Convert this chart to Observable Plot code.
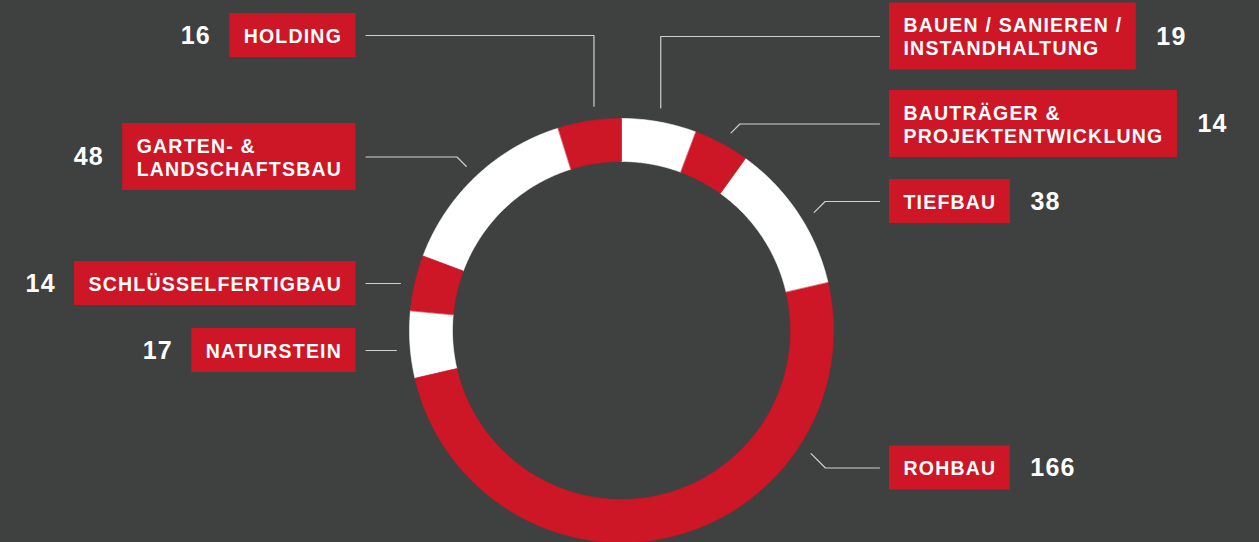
<!DOCTYPE html>
<html>
<head>
<meta charset="utf-8">
<script src="https://cdn.jsdelivr.net/npm/d3@7"></script>
<script src="https://cdn.jsdelivr.net/npm/@observablehq/plot@0.6"></script>
<style>
  html, body { margin: 0; padding: 0; background: #3f4040; }
  #chart svg text { letter-spacing: 1.2px; }
</style>
</head>
<body>
<div id="chart"></div>
<script>
// ---- data ----
const categories = ["BAUEN / SANIEREN /\nINSTANDHALTUNG", "BAUTRÄGER &\nPROJEKTENTWICKLUNG", "TIEFBAU", "ROHBAU", "NATURSTEIN", "SCHLÜSSELFERTIGBAU", "GARTEN- &\nLANDSCHAFTSBAU", "HOLDING"];
const values = [19, 14, 38, 166, 17, 14, 48, 16];

// ---- style / layout (kept apart from the data) ----
const W = 1259, H = 542;
const BG = "#3f4040", RED = "#cd1626", WHITE = "#ffffff", LEADER = "#cfcfcf";
const sliceFill = [WHITE, RED, WHITE, RED, WHITE, RED, WHITE, RED];
const donut = {cx: 621, cy: 330, rOuter: 212, rInner: 169, rLeader: 226};
const labelSide = ["right", "right", "right", "right", "left", "left", "left", "left"];
const labelY = [36, 123.5, 201, 467.5, 350, 283, 156.5, 35];
const leaderAngle = [10, 29, 58.5, 123, 265, 282, 316.6, 353];
const leaderKind = ["vert", "diag", "diag", "diag", "flat", "flat", "diag", "vert"];
const rightBoxX = 889, leftBoxX = 355.5, pad = 14, gapValue = 20, gapLeader = 10;
const labelFont = 19.5, valueFont = 25, ls = 1.2;
const FONT = "'Liberation Sans', Arial, Helvetica, sans-serif";

// ---- slices as polygons in the x/y scale space ----
const total = d3.sum(values);
const rad = a => a * Math.PI / 180;
const pt = (a, r) => ({x: donut.cx + r * Math.sin(rad(a)), y: donut.cy - r * Math.cos(rad(a))});
let acc = 0;
const slicePts = [];
values.forEach((v, i) => {
  const a0 = acc / total * 360, a1 = (acc + v) / total * 360;
  acc += v;
  const n = Math.max(4, Math.ceil((a1 - a0) / 0.5));
  const ring = [];
  for (let k = 0; k <= n; k++) ring.push({...pt(a0 + (a1 - a0) * k / n, donut.rOuter), name: categories[i], fill: sliceFill[i]});
  for (let k = n; k >= 0; k--) ring.push({...pt(a0 + (a1 - a0) * k / n, donut.rInner), name: categories[i], fill: sliceFill[i]});
  slicePts.push(...ring);
});

// ---- label boxes ----
const ctx = document.createElement("canvas").getContext("2d");
function textW(s, size) { ctx.font = `bold ${size}px ${FONT}`; return ctx.measureText(s).width + ls * s.length; }
const boxes = categories.map((c, i) => {
  const lines = c.split("\n");
  const w = d3.max(lines, l => textW(l, labelFont)) + 2 * pad;
  const h = lines.length === 1 ? 44 : 67;
  const right = labelSide[i] === "right";
  const x1 = right ? rightBoxX : leftBoxX - w;
  const x2 = right ? rightBoxX + w : leftBoxX;
  return {name: c, value: String(values[i]), x1, x2, y1: labelY[i] - h / 2, y2: labelY[i] + h / 2, y: labelY[i],
          tx: x1 + pad, vx: right ? x2 + gapValue : x1 - gapValue + ls, vAnchor: right ? "start" : "end"};
});

// ---- leader lines ----
const leaders = [];
categories.forEach((c, i) => {
  const right = labelSide[i] === "right";
  const y = labelY[i];
  const sx = right ? rightBoxX - gapLeader : leftBoxX + gapLeader;
  const e = pt(leaderAngle[i], donut.rLeader);
  let path;
  if (leaderKind[i] === "vert") path = [{x: sx, y}, {x: e.x, y}, e];
  else if (leaderKind[i] === "diag") {
    const d = Math.abs(y - e.y);
    path = [{x: sx, y}, {x: e.x + (right ? d : -d), y}, e];
  } else path = [{x: sx, y}, {x: e.x, y}];
  path.forEach(p => leaders.push({x: p.x, y: p.y, name: c}));
});

const chart = Plot.plot({
  width: W, height: H, margin: 0,
  x: {domain: [0, W], range: [0, W], axis: null},
  y: {domain: [0, H], range: [0, H], axis: null},
  style: {background: BG, fontFamily: FONT, overflow: "visible"},
  marks: [
    Plot.line(slicePts.filter(d => d.fill === WHITE), {x: "x", y: "y", z: "name", fill: WHITE, stroke: WHITE, strokeWidth: 0.6, curve: "linear-closed"}),
    Plot.line(slicePts.filter(d => d.fill === RED), {x: "x", y: "y", z: "name", fill: RED, stroke: RED, strokeWidth: 0.6, curve: "linear-closed"}),
    Plot.line(leaders, {x: "x", y: "y", z: "name", stroke: LEADER, strokeWidth: 1.2, curve: "linear"}),
    Plot.rect(boxes, {x1: "x1", x2: "x2", y1: "y1", y2: "y2", fill: RED}),
    Plot.text(boxes, {x: "tx", y: "y", text: "name", textAnchor: "start", lineAnchor: "middle", lineHeight: 1.17, fill: WHITE, fontSize: labelFont, fontWeight: "bold"}),
    Plot.text(boxes, {x: "vx", y: "y", text: "value", textAnchor: "start", fill: WHITE, fontSize: valueFont, fontWeight: "bold"})
  ]
});
document.getElementById("chart").append(chart);
// per-box anchor for the value texts (left-side values are right-aligned)
d3.select(chart).selectAll("g[aria-label=text]").filter((d, i) => i === 1).selectAll("text")
  .attr("text-anchor", (d, i) => boxes[i].vAnchor);
</script>
</body>
</html>
